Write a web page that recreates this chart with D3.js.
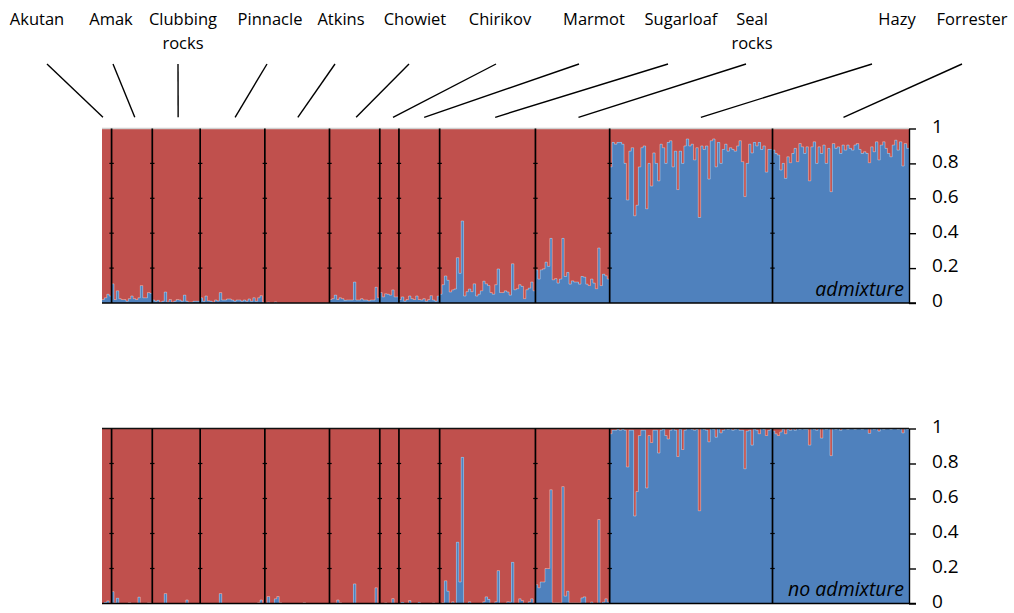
<!DOCTYPE html>
<html>
<head>
<meta charset="utf-8">
<script src="https://cdn.jsdelivr.net/npm/d3@7"></script>
<style>
  html, body { margin: 0; padding: 0; background: #fff; }
  svg { display: block; font-family: "Open Sans", "Liberation Sans", sans-serif; }
</style>
</head>
<body>
<svg id="chart" width="1014" height="613"></svg>
<script>
// ---- Data: ancestry proportion of the blue cluster for each individual ----
const populations = ["Akutan", "Amak", "Clubbing rocks", "Pinnacle", "Atkins", "Chowiet",
  "Chirikov", "Marmot", "Sugarloaf", "Seal rocks", "Hazy", "Forrester"];

const populationLabels = ["Akutan", "Amak", "Clubbing\nrocks", "Pinnacle", "Atkins", "Chowiet",
  "Chirikov", "Marmot", "Sugarloaf", "Seal\nrocks", "Hazy", "Forrester"];

// model with admixture
const admixture = [
  [0.02, 0.03, 0.05, 0.04],
  [0.11, 0.02, 0.07, 0.025, 0.02, 0.02, 0.01, 0.025, 0.04, 0.025, 0.02, 0.03, 0.10, 0.03, 0.03, 0.06, 0.055],
  [0.017, 0.01, 0.015, 0.005, 0.01, 0.063, 0.005, 0.02, 0.005, 0.01, 0.02, 0.017, 0.01, 0.045, 0.01, 0.005, 0.005, 0.01, 0.01, 0.01],
  [0.03, 0.01, 0.04, 0.013, 0.01, 0.005, 0.017, 0.012, 0.06, 0.017, 0.017, 0.023, 0.023, 0.017, 0.01, 0.017, 0.017, 0.01, 0.017, 0.01, 0.023, 0.01, 0.03, 0.01, 0.03, 0.042, 0.005],
  [0, 0.005, 0, 0, 0.006, 0, 0, 0, 0, 0, 0, 0, 0, 0, 0, 0, 0, 0, 0, 0, 0, 0, 0, 0, 0, 0, 0],
  [0.02, 0.025, 0.045, 0.02, 0.03, 0.025, 0.015, 0.017, 0.017, 0.017, 0.12, 0.017, 0.017, 0.025, 0.017, 0.017, 0.013, 0.017, 0.017, 0.09, 0.03],
  [0.06, 0.035, 0.053, 0.05, 0.045, 0.075, 0.035, 0.035],
  [0.02, 0.035, 0.01, 0.02, 0.04, 0.025, 0.02, 0.04, 0.02, 0.017, 0.025, 0.01, 0.02, 0.042, 0.017, 0.01, 0.04],
  [0.05, 0.105, 0.155, 0.13, 0.063, 0.075, 0.08, 0.26, 0.17, 0.47, 0.04, 0.065, 0.08, 0.065, 0.11, 0.04, 0.05, 0.07, 0.125, 0.11,
   0.1, 0.06, 0.05, 0.105, 0.195, 0.06, 0.06, 0.07, 0.063, 0.045, 0.225, 0.076, 0.082, 0.105, 0.095, 0.025, 0.076, 0.085, 0.12, 0.07],
  [0.19, 0.137, 0.19, 0.196, 0.234, 0.21, 0.37, 0.133, 0.14, 0.114, 0.137, 0.37, 0.152, 0.175, 0.108, 0.127, 0.12, 0.12, 0.108, 0.152,
   0.148, 0.108, 0.1, 0.137, 0.114, 0.082, 0.315, 0.1, 0.165, 0.156, 0.137],
  [0.78, 0.92, 0.91, 0.92, 0.92, 0.91, 0.80, 0.59, 0.87, 0.89, 0.50, 0.56, 0.78, 0.89, 0.90, 0.54, 0.80, 0.67, 0.86, 0.80,
   0.70, 0.91, 0.89, 0.80, 0.92, 0.93, 0.78, 0.87, 0.65, 0.87, 0.80, 0.90, 0.94, 0.90, 0.91, 0.82, 0.89, 0.49, 0.90, 0.88,
   0.90, 0.71, 0.93, 0.94, 0.78, 0.92, 0.80, 0.88, 0.91, 0.87, 0.89, 0.88, 0.87, 0.90, 0.93, 0.81, 0.61, 0.80, 0.91, 0.86,
   0.92, 0.90, 0.92, 0.88, 0.90, 0.75, 0.88, 0.88],
  [0.876, 0.857, 0.848, 0.762, 0.80, 0.714, 0.838, 0.804, 0.857, 0.886, 0.81, 0.914, 0.895, 0.857, 0.895, 0.70, 0.895, 0.924, 0.80, 0.895,
   0.857, 0.905, 0.80, 0.886, 0.638, 0.914, 0.886, 0.895, 0.857, 0.905, 0.876, 0.905, 0.886, 0.876, 0.905, 0.914, 0.88, 0.857, 0.867, 0.857,
   0.804, 0.895, 0.867, 0.924, 0.82, 0.905, 0.924, 0.886, 0.857, 0.838, 0.905, 0.933, 0.876, 0.924, 0.785, 0.914, 0.886]
];

// model without admixture
const noAdmixture = [
  [0, 0.006, 0.015, 0],
  [0.068, 0.004, 0.03, 0, 0, 0, 0, 0.005, 0, 0, 0, 0.036, 0, 0, 0, 0.004, 0.004],
  [0, 0, 0, 0, 0, 0.057, 0, 0, 0, 0, 0, 0, 0, 0, 0.02, 0, 0, 0, 0, 0],
  [0, 0, 0, 0, 0, 0, 0, 0, 0.057, 0, 0, 0, 0, 0, 0, 0, 0, 0, 0, 0, 0, 0, 0, 0, 0.005, 0.02, 0],
  [0, 0.04, 0, 0, 0.027, 0.04, 0.005, 0, 0, 0, 0, 0, 0, 0, 0, 0, 0.005, 0, 0, 0, 0, 0, 0, 0, 0, 0, 0],
  [0, 0, 0, 0.02, 0.005, 0, 0, 0, 0, 0, 0.112, 0, 0, 0, 0, 0, 0, 0, 0, 0.09, 0],
  [0, 0, 0.004, 0, 0, 0.028, 0, 0],
  [0, 0.006, 0, 0, 0.017, 0, 0, 0, 0.006, 0, 0, 0, 0, 0, 0.004, 0, 0],
  [0, 0.005, 0.13, 0.07, 0, 0.01, 0, 0.35, 0.123, 0.835, 0, 0, 0.01, 0, 0, 0, 0, 0, 0.01, 0.038,
   0.023, 0, 0, 0.01, 0.188, 0, 0, 0, 0.01, 0.008, 0.235, 0, 0, 0.027, 0.017, 0, 0, 0.01, 0.027, 0],
  [0.108, 0.09, 0.123, 0.123, 0.2, 0.2, 0.65, 0.005, 0.005, 0.005, 0.004, 0.668, 0.042, 0.07, 0.004, 0.004, 0.004, 0.004, 0.004, 0.032,
   0.038, 0, 0, 0.008, 0, 0, 0.48, 0, 0.008, 0.027, 0.008],
  [0.97, 0.99, 0.99, 0.995, 0.99, 0.995, 0.99, 0.78, 0.99, 0.99, 0.50, 0.64, 0.96, 0.99, 0.99, 0.66, 0.96, 0.92, 0.99, 0.99,
   0.86, 0.99, 0.995, 0.96, 0.94, 0.99, 1, 0.99, 0.84, 0.995, 0.88, 0.99, 1, 1, 0.995, 0.99, 0.995, 0.53, 1, 0.995,
   0.99, 0.924, 1, 0.995, 0.95, 1, 0.975, 0.99, 1, 0.995, 1, 0.99, 0.995, 1, 0.99, 0.99, 0.77, 0.985, 0.99, 0.905,
   0.995, 0.99, 0.97, 1, 0.995, 0.96, 0.99, 0.995],
  [0.985, 0.97, 0.96, 0.98, 0.995, 0.97, 0.995, 0.99, 1, 0.99, 1, 0.995, 1, 0.995, 0.995, 0.905, 1, 0.995, 0.99, 1,
   0.945, 1, 0.995, 1, 0.845, 1, 0.995, 1, 0.99, 1, 1, 0.995, 1, 1, 0.995, 1, 1, 0.995, 1, 1,
   0.972, 1, 0.995, 1, 0.985, 1, 0.995, 1, 1, 0.995, 1, 1, 0.995, 1, 0.975, 1, 0.995]
];

const yTicks = [0, 0.2, 0.4, 0.6, 0.8, 1];
const panelTitles = ["admixture", "no admixture"];

// ---- Layout ----
const plotLeft = 102, plotRight = 909;
const panelBoxes = [
  { top: 128.5, bottom: 303, edge: "#d0d0d0" },
  { top: 428.5, bottom: 603.5, edge: "#111" }
];
const labelCenters = [37, 111, 183, 270, 341, 415, 500, 594, 681, 752, 897, 972];
const leaderTops = [47, 113, 178, 267, 335, 409, 496, 579, 668, 746, 872, 962];
const leaderAnchors = [0.1, 0.57, 0.54, 0.54, 0.51, 0.53, 0.69, 0.62, 0.58, 0.58, 0.56, 0.52];
const BLUE = "#4f81bd", RED = "#c0504d";

const svg = d3.select("#chart");

const counts = admixture.map(a => a.length);
const starts = [0];
counts.forEach(c => starts.push(starts[starts.length - 1] + c));
const total = starts[starts.length - 1];

const x = d3.scaleLinear().domain([0, total]).range([plotLeft, plotRight]);

function drawPanel(values, box, title) {
  const y = d3.scaleLinear().domain([0, 1]).range([box.bottom, box.top]);
  const g = svg.append("g");

  const individuals = [];
  values.forEach((arr, gi) => arr.forEach((v, k) => individuals.push({ gi, idx: starts[gi] + k, v })));

  // red (upper) segments
  g.append("g").attr("shape-rendering", "crispEdges")
    .selectAll("rect").data(individuals).join("rect")
    .attr("x", d => x(d.idx)).attr("width", d => x(d.idx + 1) - x(d.idx))
    .attr("y", y(1)).attr("height", d => y(d.v) - y(1))
    .attr("fill", RED);

  // blue (lower) segments
  g.append("g").attr("shape-rendering", "crispEdges")
    .selectAll("rect").data(individuals).join("rect")
    .attr("x", d => x(d.idx)).attr("width", d => x(d.idx + 1) - x(d.idx))
    .attr("y", d => y(d.v)).attr("height", d => y(0) - y(d.v))
    .attr("fill", BLUE);

  // light outline along the boundary between the two clusters
  const step = d3.line().curve(d3.curveStepAfter).x(p => p[0]).y(p => p[1]);
  values.forEach((arr, gi) => {
    const pts = arr.map((v, k) => [x(starts[gi] + k), y(v)]);
    pts.push([x(starts[gi] + arr.length), y(arr[arr.length - 1])]);
    g.append("path").attr("d", step(pts))
      .attr("fill", "none").attr("stroke", "rgba(255,255,255,0.36)").attr("stroke-width", 1);
  });

  // top edge
  g.append("line")
    .attr("x1", x(0)).attr("x2", x(total)).attr("y1", y(1)).attr("y2", y(1))
    .attr("stroke", box.edge).attr("stroke-width", 1.3);

  // population separators
  starts.slice(1, -1).forEach(s => {
    g.append("line")
      .attr("x1", x(s)).attr("x2", x(s)).attr("y1", y(1)).attr("y2", y(0))
      .attr("stroke", "#000").attr("stroke-width", 1.7);
    yTicks.slice(1, -1).forEach(t => {
      g.append("line")
        .attr("x1", x(s) - 2.2).attr("x2", x(s) + 2.2).attr("y1", y(t)).attr("y2", y(t))
        .attr("stroke", "#000").attr("stroke-width", 1.2);
    });
  });

  // bottom baseline
  g.append("line")
    .attr("x1", x(0)).attr("x2", x(total) + 7).attr("y1", y(0)).attr("y2", y(0))
    .attr("stroke", "#000").attr("stroke-width", 1.5);

  // right-hand y axis
  const axis = d3.axisRight(y).tickValues(yTicks).tickSize(7).tickSizeOuter(0)
    .tickPadding(16).tickFormat(d3.format("~g"));
  const ag = g.append("g").attr("transform", `translate(${x(total)},0)`).call(axis);
  ag.select(".domain").attr("stroke", "#000").attr("stroke-width", 1.4);
  ag.selectAll(".tick line").attr("stroke", "#000").attr("stroke-width", 1.4);
  ag.selectAll(".tick text")
    .attr("fill", "#000")
    .attr("dy", "0.2em")
    .style("font-family", '"Open Sans", sans-serif')
    .style("font-size", "19px");

  // panel title
  g.append("text")
    .attr("x", x(total) - 5).attr("y", y(0) - 7.5)
    .attr("text-anchor", "end")
    .style("font-style", "italic").style("font-size", "19.5px")
    .attr("fill", "#000")
    .text(title);
}

drawPanel(admixture, panelBoxes[0], panelTitles[0]);
drawPanel(noAdmixture, panelBoxes[1], panelTitles[1]);

// population names with leader lines
const labels = svg.append("g");
populationLabels.forEach((name, i) => {
  const t = labels.append("text")
    .attr("x", labelCenters[i]).attr("y", 25)
    .attr("text-anchor", "middle")
    .style("font-size", "16.5px").attr("fill", "#000");
  name.split("\n").forEach((line, li) => {
    t.append("tspan").attr("x", labelCenters[i]).attr("y", 25 + li * 24).text(line);
  });
  const anchorX = x(starts[i] + leaderAnchors[i] * counts[i]);
  labels.append("line")
    .attr("x1", leaderTops[i]).attr("y1", 64)
    .attr("x2", anchorX).attr("y2", 117.3)
    .attr("stroke", "#000").attr("stroke-width", 1.4);
});
</script>
</body>
</html>
